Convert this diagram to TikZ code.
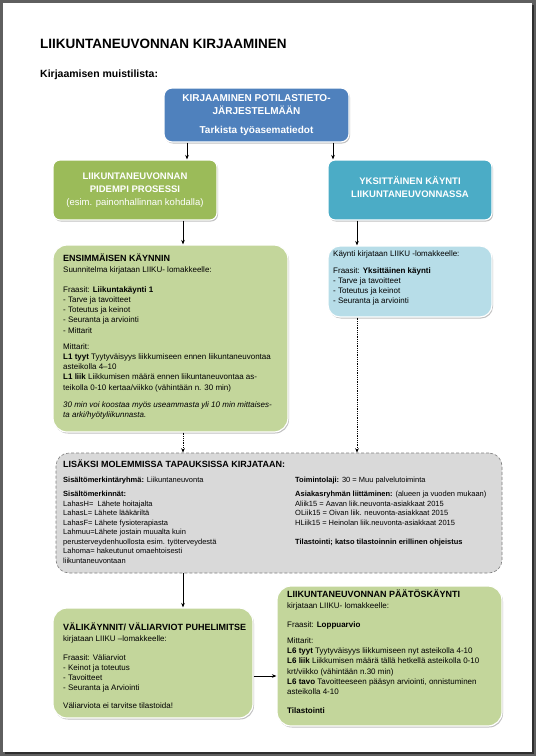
\documentclass[tikz,border=0pt]{standalone}
\usepackage{fontspec}
\setmainfont{Liberation Sans}
\usetikzlibrary{shadows,arrows.meta,calc}
\definecolor{frameg}{HTML}{5F5F5F}
\definecolor{framed}{HTML}{2E2E2E}
\definecolor{topblue}{HTML}{4F81BD}
\definecolor{midgreen}{HTML}{9BBB59}
\definecolor{midblue}{HTML}{4BACC6}
\definecolor{lightgreen}{HTML}{C3D69B}
\definecolor{lightblue}{HTML}{B7DDE8}
\definecolor{boxgray}{HTML}{D9D9D9}
\definecolor{dashgray}{HTML}{808080}
\newcommand\bxfont{\fontsize{8}{10.2}\selectfont}
\newcommand\gxfont{\fontsize{7.5}{9.5}\selectfont}
\newcommand\hdfont{\fontsize{9}{11}\selectfont\bfseries}
\begin{document}
\begin{tikzpicture}[x=1pt,y=-1pt,
  box/.style={rectangle, draw=white, line width=1.2pt, inner sep=0pt,
    drop shadow={shadow xshift=1pt, shadow yshift=-1.5pt, opacity=0.35, fill=black!70}},
  midtxt/.style={text=white, align=center, font=\fontsize{9.5}{13}\selectfont},
  blocktxt/.style={anchor=north west, inner sep=0pt, align=left, font=\bxfont},
  arr/.style={-{Stealth[length=4.5pt,width=3.6pt]}, line width=0.8pt},
  dotarr/.style={arr, densely dotted, line width=1pt}]
\useasboundingbox (0,0) rectangle (536,756);
% page frame
\fill[frameg] (0,0) rectangle (536,756);
\fill[framed] (5,5) rectangle (534,754);
\fill[white] (3,3) rectangle (532,752);

% headings
\node[anchor=base west, inner sep=0pt, font=\fontsize{13.5}{16}\selectfont\bfseries] (title) at (40,48) {LIIKUNTANEUVONNAN KIRJAAMINEN};
\node[anchor=base west, inner sep=0pt, font=\fontsize{10.5}{13}\selectfont\bfseries] (subtitle) at (40,77) {Kirjaamisen muistilista:};

% top box
\node[box, fill=topblue, rounded corners=8pt, minimum width=185pt, minimum height=54pt,
  text=white, align=center, font=\fontsize{10}{13}\selectfont\bfseries] (top) at (256.5,115)
  {KIRJAAMINEN POTILASTIETO-\\JÄRJESTELMÄÄN\\[6pt]Tarkista työasematiedot};

% second level
\node[box, fill=midgreen, rounded corners=7pt, minimum width=164pt, minimum height=60pt, midtxt] (green) at (135,190)
  {\textbf{LIIKUNTANEUVONNAN}\\\textbf{PIDEMPI PROSESSI}\\(esim. painonhallinnan kohdalla)};
\node[box, fill=midblue, rounded corners=7pt, minimum width=164pt, minimum height=60pt] (blue) at (410,190) {};
\node[midtxt, font=\fontsize{9.5}{13}\selectfont\bfseries] (bluetxt) at (410,187)
  {YKSITTÄINEN KÄYNTI\\LIIKUNTANEUVONNASSA};

% big green box
\node[box, fill=lightgreen, rounded corners=14pt, minimum width=235pt, minimum height=187pt] (first) at (170.5,338.5) {};
\node[blocktxt] (firsttxt) at (63,254) {{\hdfont ENSIMMÄISEN KÄYNNIN}\\
Suunnitelma kirjataan LIIKU- lomakkeelle:\\[10pt]
Fraasit: \textbf{Liikuntakäynti 1}\\
- Tarve ja tavoitteet\\
- Toteutus ja keinot\\
- Seuranta ja arviointi\\
- Mittarit\\[6pt]
Mittarit:\\
\textbf{L1 tyyt} Tyytyväisyys liikkumiseen ennen liikuntaneuvontaa\\
asteikolla 4–10\\
\textbf{L1 liik} Liikkumisen määrä ennen liikuntaneuvontaa as-\\
teikolla 0-10 kertaa/viikko (vähintään n. 30 min)\\[7pt]
\textit{30 min voi koostaa myös useammasta yli 10 min mittaises-}\\
\textit{ta arki/hyötyliikunnasta.}};

% light blue box
\node[box, fill=lightblue, rounded corners=12pt, minimum width=164pt, minimum height=71pt] (single) at (410,281.5) {};
\node[blocktxt] (singletxt) at (333,250) {Käynti kirjataan LIIKU -lomakkeelle:\\[7pt]
Fraasit: \textbf{Yksittäinen käynti}\\
- Tarve ja tavoitteet\\
- Toteutus ja keinot\\
- Seuranta ja arviointi};

% gray box
\node[rectangle, fill=boxgray, draw=dashgray, densely dashed, line width=0.6pt, rounded corners=13pt,
  minimum width=446pt, minimum height=120pt, inner sep=0pt] (both) at (279,513) {};
\node[blocktxt] (bothtitle) at (63,460) {\hdfont LISÄKSI MOLEMMISSA TAPAUKSISSA KIRJATAAN:};
\node[blocktxt, font=\gxfont] (bothleft) at (63,477) {\textbf{Sisältömerkintäryhmä:} Liikuntaneuvonta\\[4.5pt]
\textbf{Sisältömerkinnät:}\\
LahasH=\ \ Lähete hoitajalta\\
LahasL= Lähete lääkäriltä\\
LahasF= Lähete fysioterapiasta\\
Lahmuu=Lähete jostain muualta kuin\\
perusterveydenhuollosta esim. työterveydestä\\
Lahoma= hakeutunut omaehtoisesti\\
liikuntaneuvontaan};
\node[blocktxt, font=\gxfont] (bothright) at (295,477) {\textbf{Toimintolaji:} 30 = Muu palvelutoiminta\\[4.5pt]
\textbf{Asiakasryhmän liittäminen:} (alueen ja vuoden mukaan)\\
Aliik15 = Aavan liik.neuvonta-asiakkaat 2015\\
OLiik15 = Oivan liik. neuvonta-asiakkaat 2015\\
HLiik15 = Heinolan liik.neuvonta-asiakkaat 2015\\[9.5pt]
\textbf{Tilastointi; katso tilastoinnin erillinen ohjeistus}};

% bottom left
\node[box, fill=lightgreen, rounded corners=14pt, minimum width=200pt, minimum height=110pt] (mid) at (153,663) {};
\node[blocktxt] (midtxt) at (63,623) {{\hdfont VÄLIKÄYNNIT/ VÄLIARVIOT PUHELIMITSE}\\
kirjataan LIIKU –lomakkeelle:\\[9pt]
Fraasit: Väliarviot\\
- Keinot ja toteutus\\
- Tavoitteet\\
- Seuranta ja Arviointi\\[7pt]
Väliarviota ei tarvitse tilastoida!};

% bottom right
\node[box, fill=lightgreen, rounded corners=14pt, minimum width=225pt, minimum height=140pt] (final) at (389.5,656) {};
\node[blocktxt] (finaltxt) at (287,590) {{\hdfont LIIKUNTANEUVONNAN PÄÄTÖSKÄYNTI}\\
kirjataan LIIKU- lomakkeelle:\\[9pt]
Fraasit: \textbf{Loppuarvio}\\[6pt]
Mittarit:\\
\textbf{L6 tyyt} Tyytyväisyys liikkumiseen nyt asteikolla 4-10\\
\textbf{L6 liik} Liikkumisen määrä tällä hetkellä asteikolla 0-10\\
krt/viikko (vähintään n.30 min)\\
\textbf{L6 tavo} Tavoitteeseen pääsyn arviointi, onnistuminen\\
asteikolla 4-10\\[9pt]
\textbf{Tilastointi}};

% connector columns
\coordinate (c1) at (187,0);
\coordinate (c2) at (333,0);
\coordinate (c3) at (183,0);
\coordinate (c4) at (357,0);
\coordinate (r1) at (0,676);

\draw[arr] (top.south -| c1) -- (green.north -| c1);
\draw[arr] (top.south -| c2) -- (blue.north -| c2);
\draw[arr] (green.south -| c3) -- (first.north -| c3);
\draw[arr] (blue.south -| c4) -- (single.north -| c4);
\draw[dotarr] (first.south -| c3) -- (both.north -| c3);
\draw[dotarr] (single.south -| c4) -- (both.north -| c4);
\draw[arr] (both.south -| c3) -- (mid.north -| c3);
\draw[arr] (mid.east |- r1) -- (final.west |- r1);
\end{tikzpicture}
\end{document}
